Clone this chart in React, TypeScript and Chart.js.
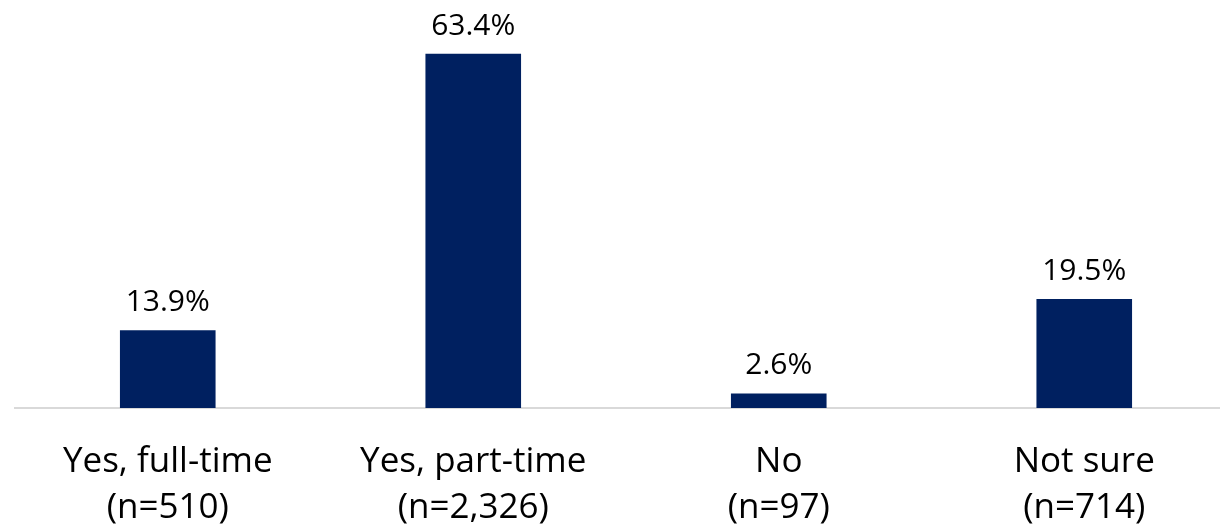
import React, { useEffect, useRef } from "react";
import { Chart, registerables } from "chart.js";

Chart.register(...registerables);

const categories: string[][] = [
  ["Yes, full-time", "(n=510)"],
  ["Yes, part-time", "(n=2,326)"],
  ["No", "(n=97)"],
  ["Not sure", "(n=714)"],
];
const values: number[] = [13.9, 63.4, 2.6, 19.5];
const valueLabels: string[] = ["13.9%", "63.4%", "2.6%", "19.5%"];

const FONT = "'Open Sans', Lato, sans-serif";

const valueLabelPlugin = {
  id: "valueLabels",
  afterDatasetsDraw(chart: any) {
    const ctx = chart.ctx;
    const meta = chart.getDatasetMeta(0);
    ctx.save();
    ctx.font = `30px ${FONT}`;
    ctx.fillStyle = "#000000";
    ctx.textAlign = "center";
    ctx.textBaseline = "alphabetic";
    meta.data.forEach((bar: any, i: number) => {
      ctx.fillText(valueLabels[i], bar.x, bar.y - 19);
    });
    ctx.restore();
  },
};

export default function App() {
  const ref = useRef<HTMLCanvasElement>(null);
  useEffect(() => {
    if (!ref.current) return;
    const chart = new Chart(ref.current, {
      type: "bar",
      data: {
        labels: categories,
        datasets: [
          {
            data: values,
            backgroundColor: "#002060",
            borderWidth: 0,
            barPercentage: 0.313,
            categoryPercentage: 1,
          },
        ],
      },
      options: {
        responsive: false,
        animation: false,
        layout: { padding: { left: 15, right: 0, top: 17, bottom: 0 } },
        plugins: {
          legend: { display: false },
          tooltip: { enabled: false },
        },
        scales: {
          x: {
            grid: { display: false, drawTicks: false },
            border: { display: true, color: "#d9d9d9", width: 2 },
            ticks: {
              color: "#000000",
              font: { family: FONT, size: 35, lineHeight: 1.314 },
              padding: 31,
              maxRotation: 0,
              autoSkip: false,
            },
            afterFit(scale: any) {
              scale.height = 119;
            },
          },
          y: {
            display: false,
            min: 0,
            max: 70,
          },
        },
      },
      plugins: [valueLabelPlugin],
    });
    return () => chart.destroy();
  }, []);
  return (
    <div
      style={{
        position: "absolute",
        left: 0,
        top: 0,
        width: 1220,
        height: 527,
        overflow: "hidden",
        background: "#ffffff",
      }}
    >
      <canvas ref={ref} width={1237} height={527} />
    </div>
  );
}
